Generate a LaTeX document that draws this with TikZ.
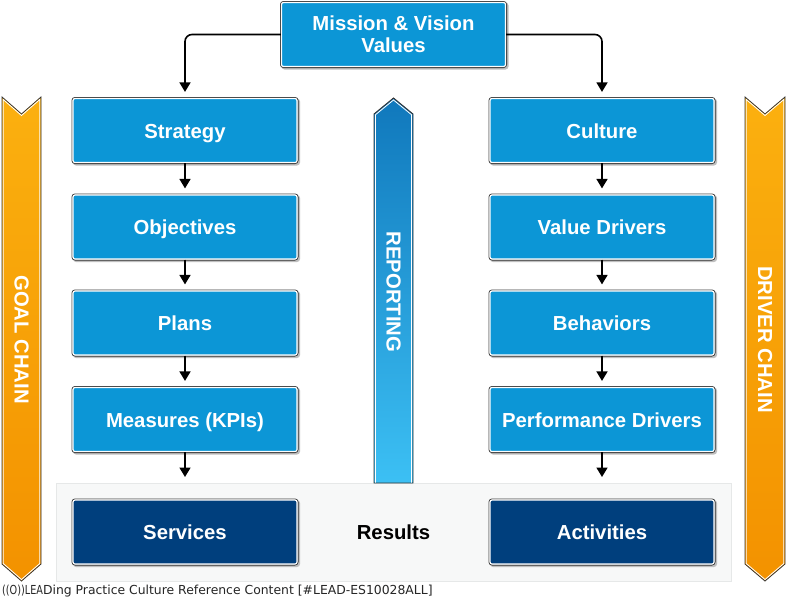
\documentclass[tikz,border=0pt]{standalone}
\usepackage{fontspec}
\setmainfont{Liberation Sans}
\newfontfamily\footfont{DejaVu Sans}
\usetikzlibrary{arrows.meta}
\definecolor{boxblue}{HTML}{0C96D6}
\definecolor{darkblue}{HTML}{003F7D}
\definecolor{panelgray}{HTML}{F7F8F8}
\definecolor{panelline}{HTML}{E6E8E8}
\definecolor{chaintop}{HTML}{FBB00F}
\definecolor{chainbot}{HTML}{F39200}
\definecolor{reptop}{HTML}{1078BC}
\definecolor{repbot}{HTML}{3CC0F4}
\definecolor{edgegray}{HTML}{333333}
\tikzset{
  x=1pt,y=-1pt,
  boxbase/.style={minimum width=224pt,minimum height=64pt,inner sep=0pt,
    rounded corners=2pt,draw=white,line width=1.2pt,text=white,
    font=\fontsize{20.3}{23}\selectfont\bfseries},
  rim/.style={draw=edgegray,line width=1pt,rounded corners=3pt},
  bluebox/.style={boxbase,fill=boxblue,text height=19pt,text depth=4pt},
  darkbox/.style={boxbase,fill=darkblue,text height=19pt,text depth=4pt},
  missionbox/.style={boxbase,fill=boxblue,align=center},
  flow/.style={draw=black,line width=1.6pt,-{Triangle[length=9.5pt,width=11pt]}},
  elbow/.style={flow,rounded corners=7pt},
  gap/.style={shorten >=6pt},
  chainlabel/.style={font=\fontsize{20.3}{23}\selectfont\bfseries,text=white,rotate=-90},
  chainshape/.style={top color=chaintop,bottom color=chainbot,draw=edgegray,line width=0.8pt},
  repshape/.style={top color=reptop,bottom color=repbot,draw=edgegray,line width=0.9pt},
  innerline/.style={draw=white,line width=0.8pt},
}
\newcommand{\bx}[5][bluebox]{%
  \fill[black!25,rounded corners=3pt] (#3-112,#4-32) rectangle (#3+115,#4+35);
  \draw[rim] (#3-113,#4-33) rectangle (#3+113,#4+33);
  \node[#1] (#2) at (#3,#4) {#5};}
\begin{document}
\begin{tikzpicture}
\useasboundingbox (0,0) rectangle (787,600);
\fill[white] (0,0) rectangle (787,600);
% panel
\draw[fill=panelgray,draw=panelline,line width=1pt] (56,483) rectangle (731,581);
% chains
\draw[chainshape] (2,97) -- (21.5,114) -- (41,97) -- (41,564) -- (21.5,581) -- (2,564) -- cycle;
\draw[innerline] (3.2,99.5) -- (21.5,115.5) -- (39.8,99.5) -- (39.8,563.5) -- (21.5,579.5) -- (3.2,563.5) -- cycle;
\draw[chainshape] (745,97) -- (765,114) -- (785,97) -- (785,564) -- (765,581) -- (745,564) -- cycle;
\draw[innerline] (746.2,99.5) -- (765,115.5) -- (783.8,99.5) -- (783.8,563.5) -- (765,579.5) -- (746.2,563.5) -- cycle;
\draw[repshape] (374,114) -- (393.5,98) -- (413,114) -- (413,483) -- (374,483) -- cycle;
\draw[innerline] (375.5,114.7) -- (393.5,100) -- (411.5,114.7) -- (411.5,482.5) (375.5,482.5) -- (375.5,114.7);
\node[chainlabel] (goal) at (21.5,339.5) {GOAL CHAIN};
\node[chainlabel] (driver) at (765,339.5) {DRIVER CHAIN};
\node[chainlabel] (rep) at (393.5,292) {REPORTING};
% boxes
\bx[missionbox]{mission}{393.5}{34.5}{Mission \& Vision\\[-1pt]Values}
\bx{strategy}{185}{130.5}{Strategy}
\bx{objectives}{185}{227}{Objectives}
\bx{plans}{185}{323}{Plans}
\bx{measures}{185}{419.5}{Measures (KPIs)}
\bx[darkbox]{services}{185}{532}{Services}
\bx{culture}{602}{130.5}{Culture}
\bx{drivers}{602}{227}{Value Drivers}
\bx{behaviors}{602}{323}{Behaviors}
\bx{perf}{602}{419.5}{Performance Drivers}
\bx[darkbox]{activities}{602}{532}{Activities}
\node[font=\fontsize{20.3}{23}\selectfont\bfseries,text=black] (results) at (393.5,532) {Results};
% connectors
\draw[elbow,gap] (mission.west) -| (strategy.north);
\draw[elbow,gap] (mission.east) -| (culture.north);
\draw[flow,gap] (strategy) -- (objectives);
\draw[flow,gap] (objectives) -- (plans);
\draw[flow,gap] (plans) -- (measures);
\draw[flow,gap] (culture) -- (drivers);
\draw[flow,gap] (drivers) -- (behaviors);
\draw[flow,gap] (behaviors) -- (perf);
\coordinate (mend) at (185,477);
\coordinate (pend) at (602,477);
\draw[flow] (measures) -- (mend);
\draw[flow] (perf) -- (pend);
% footer
\node[anchor=west,inner sep=0pt,font=\footfont\fontsize{12.4}{14}\selectfont,text=black!85] (foot) at (2,591) {\scalebox{0.78}[1]{((O))LEA}Ding Practice Culture Reference Content [\#LEAD-ES10028ALL]};
\end{tikzpicture}
\end{document}
